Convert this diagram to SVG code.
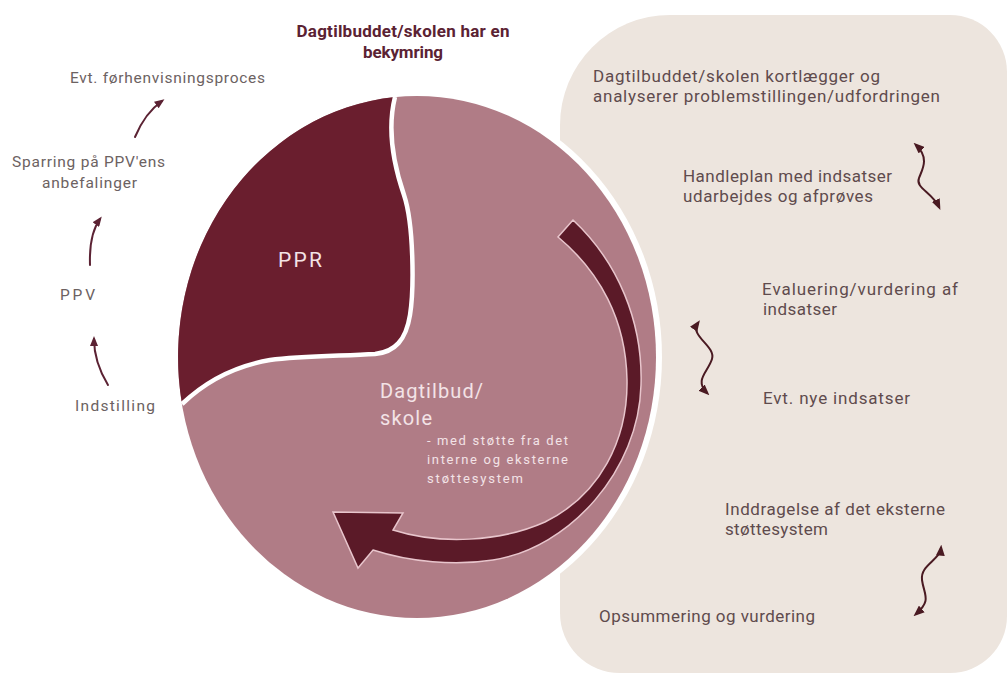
<svg xmlns="http://www.w3.org/2000/svg" width="1007" height="675" viewBox="0 0 1007 675">
  <style>
    text { font-family: Roboto, "Liberation Sans", sans-serif; }
    .title { font-size: 17px; font-weight: bold; fill: #5b2233; }
    .side { font-size: 15.5px; fill: #6c6262; }
    .step { font-size: 17px; fill: #5f4b4d; }
    .ppr { font-size: 21px; fill: #f3e3e6; }
    .main { font-size: 20px; fill: #f3e3e6; }
    .sub { font-size: 13px; fill: #f3e3e6; }
    .flow { fill: none; stroke: #5b2233; stroke-width: 2; stroke-linecap: round; }
    .wave { fill: none; stroke: #4a1a22; stroke-width: 2; stroke-linecap: round; }
  </style>
  <defs>
    <marker id="head" viewBox="0 0 10 8" refX="7" refY="4" markerWidth="10" markerHeight="8" markerUnits="userSpaceOnUse" orient="auto">
      <path d="M0,0 L10,4 L0,8 Z" fill="#5b2233"/>
    </marker>
    <marker id="wavehead" viewBox="0 0 10 8" refX="7" refY="4" markerWidth="11" markerHeight="9" markerUnits="userSpaceOnUse" orient="auto-start-reverse">
      <path d="M0,0 L10,4 L0,8 Z" fill="#4a1a22"/>
    </marker>
  </defs>

  <!-- background panel for the school process -->
  <g id="process-panel">
    <path d="M670,15 H950 A57,57 0 0 1 1007,72 V616 A57,57 0 0 1 950,673 H620 A60,60 0 0 1 560,613 V125 A110,110 0 0 1 670,15 Z" fill="#ede5de"/>
  </g>

  <!-- central circle -->
  <g id="circle">
    <ellipse cx="417" cy="357" rx="245" ry="267" fill="#ffffff"/>
    <ellipse cx="417" cy="357" rx="239" ry="261" fill="#b07c86"/>
  </g>

  <g id="ppr">
    <path d="M395,97 C388,125 392,160 404,195 C414,225 414,290 410,315 C406,340 395,352 375,354 C340,356 300,356 270,360 C235,366 205,382 182,404 A239,261 0 0 1 395,97 Z" fill="#6a1e2e"/>
    <path d="M395,97 C388,125 392,160 404,195 C414,225 414,290 410,315 C406,340 395,352 375,354 C340,356 300,356 270,360 C235,366 205,382 182,404" fill="none" stroke="#ffffff" stroke-width="4.5"/>
    <text class="ppr" x="300" y="267" text-anchor="middle" textLength="44" lengthAdjust="spacing">PPR</text>
  </g>

  <g id="cycle-arrow">
    <path d="M573,220 C618,262 643,322 641,385 C639,470 570,548 493,560 C455,566 410,562 373,550 L358,568 L333,512 L403,513 L393,530 C440,545 500,542 545,522 C600,495 628,440 627,380 C626,320 600,272 558,237 Z" fill="#5b1a28" stroke="#e8c5cc" stroke-width="1.5" stroke-linejoin="miter"/>
  </g>

  <g id="school">
    <text class="main" x="380" y="398" textLength="103" lengthAdjust="spacing">Dagtilbud/</text>
    <text class="main" x="380" y="425" textLength="52" lengthAdjust="spacing">skole</text>
    <text class="sub" x="427" y="445" textLength="141" lengthAdjust="spacing">- med støtte fra det</text>
    <text class="sub" x="427" y="464" textLength="141" lengthAdjust="spacing">interne og eksterne</text>
    <text class="sub" x="427" y="483" textLength="96" lengthAdjust="spacing">støttesystem</text>
  </g>

  <g id="concern">
    <text class="title" x="403" y="37" text-anchor="middle" textLength="213" lengthAdjust="spacing">Dagtilbuddet/skolen har en</text>
    <text class="title" x="403" y="58" text-anchor="middle" textLength="80" lengthAdjust="spacing">bekymring</text>
  </g>

  <!-- referral steps on the left -->
  <g id="referral">
    <text class="side" x="70" y="83" textLength="195" lengthAdjust="spacing">Evt. førhenvisningsproces</text>
    <text class="side" x="12" y="167" textLength="153" lengthAdjust="spacing">Sparring på PPV'ens</text>
    <text class="side" x="42" y="188" textLength="95" lengthAdjust="spacing">anbefalinger</text>
    <text class="side" x="60" y="300" textLength="35" lengthAdjust="spacing">PPV</text>
    <text class="side" x="75" y="411" textLength="80" lengthAdjust="spacing">Indstilling</text>
  </g>

  <!-- steps in the panel -->
  <g id="steps">
    <text class="step" x="593" y="82" textLength="287" lengthAdjust="spacing">Dagtilbuddet/skolen kortlægger og</text>
    <text class="step" x="593" y="102" textLength="347" lengthAdjust="spacing">analyserer problemstillingen/udfordringen</text>
    <text class="step" x="683" y="182" textLength="209" lengthAdjust="spacing">Handleplan med indsatser</text>
    <text class="step" x="683" y="202" textLength="190" lengthAdjust="spacing">udarbejdes og afprøves</text>
    <text class="step" x="762" y="295" textLength="196" lengthAdjust="spacing">Evaluering/vurdering af</text>
    <text class="step" x="763" y="315" textLength="74" lengthAdjust="spacing">indsatser</text>
    <text class="step" x="763" y="404" textLength="147" lengthAdjust="spacing">Evt. nye indsatser</text>
    <text class="step" x="725" y="515" textLength="220" lengthAdjust="spacing">Inddragelse af det eksterne</text>
    <text class="step" x="725" y="535" textLength="103" lengthAdjust="spacing">støttesystem</text>
    <text class="step" x="599" y="622" textLength="216" lengthAdjust="spacing">Opsummering og vurdering</text>
  </g>

  <g id="connectors">
    <path class="flow" d="M135,137 Q145,113 162,101" marker-end="url(#head)"/>
    <path class="flow" d="M90,265 Q89,234 100,219" marker-end="url(#head)"/>
    <path class="flow" d="M108,385 Q94,362 94,339" marker-end="url(#head)"/>
    <path class="wave" d="M916,145 C930,158 922,170 919,178 C915,188 932,192 939,207" marker-start="url(#wavehead)" marker-end="url(#wavehead)"/>
    <path class="wave" d="M698,323 C689,336 716,346 712,359 C708,372 694,380 707,393" marker-start="url(#wavehead)" marker-end="url(#wavehead)"/>
    <path class="wave" d="M941,548 C940,560 920,565 922,580 C924,595 932,600 916,614" marker-start="url(#wavehead)" marker-end="url(#wavehead)"/>
  </g>
</svg>
